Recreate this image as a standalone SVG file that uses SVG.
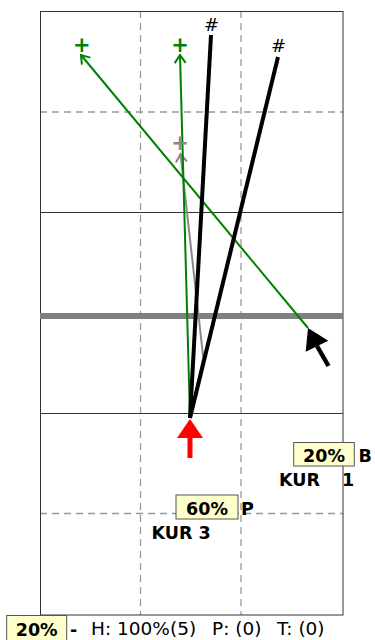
<svg xmlns="http://www.w3.org/2000/svg" width="375" height="640" viewBox="0 0 375 640">
<style>
.grid{stroke:#999;stroke-width:1.3;stroke-dasharray:7,5;fill:none}
.solid{stroke:#333;stroke-width:1;fill:none}
.g{stroke:#008000;stroke-width:2;fill:none}
.gr{stroke:#888;stroke-width:2;fill:none}
.bk{stroke:#000;stroke-width:4;fill:none;stroke-linecap:butt}
.lbl{font-family:"DejaVu Sans","Liberation Sans",sans-serif;font-weight:bold;font-size:17.5px;fill:#000}
.box{fill:#ffffcc;stroke:#555;stroke-width:1}
.mk{font-family:"DejaVu Sans",sans-serif;font-size:18px;text-anchor:middle}
.pl{font-family:"DejaVu Sans",sans-serif;font-size:21px;text-anchor:middle;font-weight:bold}
.txt{font-family:"DejaVu Sans","Liberation Sans",sans-serif;font-size:18.5px;fill:#000}
</style>
<defs>
<marker id="ag" markerUnits="userSpaceOnUse" markerWidth="14" markerHeight="14" refX="0" refY="0" viewBox="-10 -7 12 14" orient="auto"><path d="M-8,-5.5 L0,0 L-8,5.5" fill="none" stroke="#008000" stroke-width="2"/></marker>
<marker id="agr" markerUnits="userSpaceOnUse" markerWidth="14" markerHeight="14" refX="0" refY="0" viewBox="-10 -7 12 14" orient="auto"><path d="M-8,-5.5 L0,0 L-8,5.5" fill="none" stroke="#888" stroke-width="2"/></marker>
</defs>
<rect width="375" height="640" fill="#fff"/>
<g id="field">
<line class="grid" x1="140.5" y1="11" x2="140.5" y2="615"/>
<line class="grid" x1="241" y1="11" x2="241" y2="615"/>
<line class="grid" x1="40" y1="112" x2="343" y2="112"/>
<line class="grid" x1="40" y1="513.5" x2="343" y2="513.5"/>
<line class="solid" x1="40" y1="212.5" x2="343" y2="212.5"/>
<line class="solid" x1="40" y1="413.5" x2="343" y2="413.5"/>
<rect class="solid" x="40.5" y="11.5" width="302.5" height="603.5"/>
<line x1="40" y1="316" x2="343" y2="316" stroke="#808080" stroke-width="6"/>
</g>
<g id="connectors">
<polyline class="gr" points="190,418 203.3,358 180.5,154" marker-end="url(#agr)"/>
<line class="g" x1="308" y1="328" x2="81" y2="55" marker-end="url(#ag)"/>
<line class="g" x1="190" y1="418" x2="180" y2="55" marker-end="url(#ag)"/>
<line class="bk" x1="190" y1="418" x2="211" y2="35"/>
<line class="bk" x1="190" y1="418" x2="278" y2="57"/>
</g>
<g id="markers">
<text class="pl" x="81.7" y="51.5" fill="#008000">+</text>
<text class="pl" x="180" y="51.5" fill="#008000">+</text>
<text class="pl" x="180" y="149.5" fill="#888">+</text>
<text class="mk" x="211.6" y="30.7" fill="#000">#</text>
<text class="mk" x="278.5" y="51.7" fill="#000">#</text>
</g>
<g id="cue-arrow">
<line x1="328.5" y1="366" x2="317" y2="346" stroke="#000" stroke-width="4.5"/>
<polygon points="308,328 328.3,340.7 305.7,351.7" fill="#000"/>
</g>
<g id="start-arrow">
<line x1="190" y1="436" x2="190" y2="458" stroke="#ff0000" stroke-width="5"/>
<polygon points="190,419 203,438 177,438" fill="#ff0000"/>
</g>
<g id="label-b">
<rect class="box" x="293.7" y="442.5" width="60.6" height="23.5"/>
<text class="lbl" x="324" y="462" text-anchor="middle">20%</text>
<text class="lbl" x="358.5" y="462">B</text>
<text class="lbl" x="279" y="486">KUR<tspan x="342">1</tspan></text>
</g>
<g id="label-p">
<rect class="box" x="176" y="495" width="62" height="24"/>
<text class="lbl" x="207" y="514.5" text-anchor="middle">60%</text>
<text class="lbl" x="241" y="514.5">P</text>
<text class="lbl" x="151.5" y="538.5">KUR 3</text>
</g>
<g id="status">
<rect class="box" x="6.7" y="615.5" width="60" height="30"/>
<text class="lbl" x="36.7" y="636" text-anchor="middle">20%</text>
<text class="lbl" x="70" y="636">-</text>
<text class="txt" y="634.5"><tspan x="91">H: 100%(5)</tspan><tspan x="212">P: (0)</tspan><tspan x="277">T: (0)</tspan></text>
</g>
</svg>
